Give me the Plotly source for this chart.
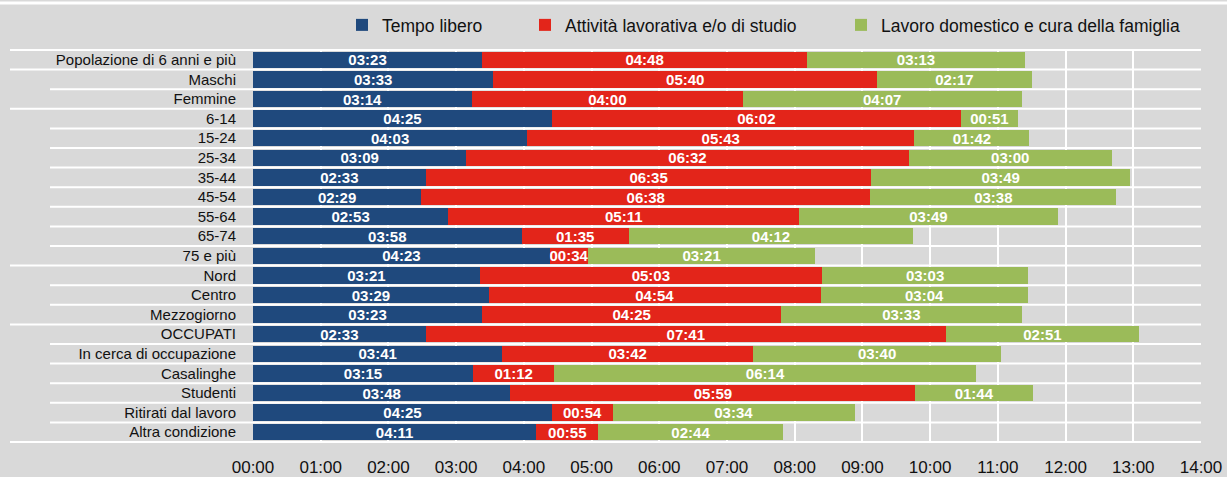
import plotly.graph_objects as go

categories = ["Popolazione di 6 anni e più", "Maschi", "Femmine", "6-14", "15-24", "25-34",
              "35-44", "45-54", "55-64", "65-74", "75 e più", "Nord", "Centro", "Mezzogiorno",
              "OCCUPATI", "In cerca di occupazione", "Casalinghe", "Studenti",
              "Ritirati dal lavoro", "Altra condizione"]
tempo_libero = ["03:23", "03:33", "03:14", "04:25", "04:03", "03:09", "02:33", "02:29", "02:53", "03:58",
                "04:23", "03:21", "03:29", "03:23", "02:33", "03:41", "03:15", "03:48", "04:25", "04:11"]
lavoro_studio = ["04:48", "05:40", "04:00", "06:02", "05:43", "06:32", "06:35", "06:38", "05:11", "01:35",
                 "00:34", "05:03", "04:54", "04:25", "07:41", "03:42", "01:12", "05:59", "00:54", "00:55"]
domestico = ["03:13", "02:17", "04:07", "00:51", "01:42", "03:00", "03:49", "03:38", "03:49", "04:12",
             "03:21", "03:03", "03:04", "03:33", "02:51", "03:40", "06:14", "01:44", "03:34", "02:44"]
series_names = ["Tempo libero", "Attività lavorativa e/o di studio", "Lavoro domestico e cura della famiglia"]
tick_labels = ["%02d:00" % h for h in range(15)]
group_breaks = [0, 1, 3, 11, 14, 20]  # long separator lines before these row indices

colors = ["#1f497d", "#e3251a", "#9bbb59"]
FONT = "Liberation Sans, Arial, sans-serif"
W, HT = 1227.0, 477.0


def to_hours(s):
    h, m = s.split(":")
    return int(h) + int(m) / 60.0


legend_ids = ["legend", "legend2", "legend3"]
legend_text_x = [382, 565, 881]

fig = go.Figure()
for name, vals, col, lid in zip(series_names, [tempo_libero, lavoro_studio, domestico], colors, legend_ids):
    fig.add_trace(go.Bar(
        y=categories, x=[to_hours(v) for v in vals], orientation="h", name=name,
        marker=dict(color=col, line=dict(width=0)),
        text=vals, textposition="inside", insidetextanchor="middle", constraintext="none",
        textfont=dict(color="white", size=15, family=FONT, weight="bold"),
        hoverinfo="skip", legend=lid,
    ))

shapes = []
L = 948.0
H = 394.0
for i in range(len(categories) + 1):
    long_line = i in group_breaks
    x0 = -(253 - 10) / L if long_line else -(253 - 50) / L
    shapes.append(dict(type="line", xref="paper", yref="y", x0=x0, x1=1,
                       y0=i - 0.5, y1=i - 0.5, line=dict(color="white", width=2), layer="below"))
shapes.append(dict(type="line", xref="paper", yref="paper", x0=-253 / L, x1=1 + 26 / L,
                   y0=1 + 46 / H, y1=1 + 46 / H, line=dict(color="white", width=3)))

legends = {}
for lid, tx in zip(legend_ids, legend_text_x):
    legends[lid] = dict(orientation="h", xref="container", yref="container",
                        x=(tx - 40) / W, y=1 - 25 / HT, xanchor="left", yanchor="middle",
                        font=dict(size=17.5, family=FONT), bgcolor="rgba(0,0,0,0)", itemwidth=30)

fig.update_layout(
    width=1227, height=477,
    margin=dict(l=253, r=26, t=49, b=34, autoexpand=False),
    paper_bgcolor="#d9d9d9", plot_bgcolor="#d9d9d9",
    barmode="stack", bargap=0.17,
    font=dict(family=FONT, size=15, color="#111111"),
    showlegend=True,
    shapes=shapes,
    xaxis=dict(range=[0, 14], tickvals=list(range(15)), ticktext=tick_labels,
               showgrid=True, gridcolor="white", gridwidth=1.5, zeroline=False,
               tickfont=dict(size=17, family=FONT), ticks="", ticklabelstandoff=12,
               automargin=False, fixedrange=True),
    yaxis=dict(autorange="reversed", showgrid=False, ticks="", ticklabelstandoff=16,
               tickmode="array", tickvals=categories, ticktext=categories,
               tickfont=dict(size=15, family=FONT), zeroline=False, automargin=False),
    **legends,
)

fig.write_html("out.html", config={"displayModeBar": False},
               post_script="document.body.style.margin='0';")
